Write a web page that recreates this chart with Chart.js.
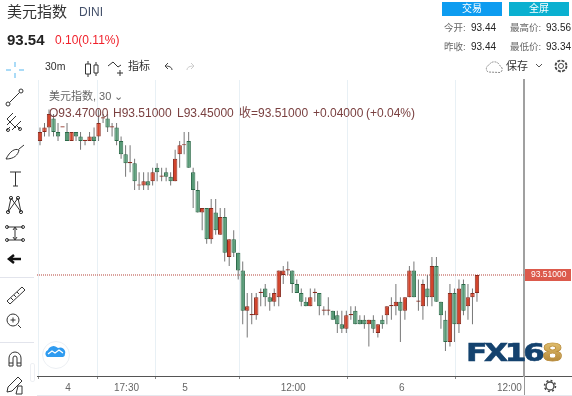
<!DOCTYPE html>
<html><head><meta charset="utf-8">
<script src="https://cdn.jsdelivr.net/npm/chart.js@4"></script>
<style>
html,body{margin:0;padding:0;background:#fff;width:572px;height:396px;overflow:hidden}
body{font-family:"Liberation Sans","Noto Sans CJK SC",sans-serif;position:relative}
canvas{position:absolute;left:0;top:0}
.t{position:absolute;white-space:nowrap;line-height:1}
svg.i{position:absolute;overflow:visible;fill:none;stroke:#333;stroke-width:1}
.box{position:absolute}
</style></head><body>
<canvas id="c" width="572" height="396"></canvas>

<div class="t" style="left:7px;top:4px;font-size:15px;color:#333">美元指数</div>
<div class="t" style="left:79px;top:6px;font-size:12px;color:#44506a">DINI</div>
<div class="t" style="left:7px;top:32px;font-size:15px;font-weight:bold;color:#222">93.54</div>
<div class="t" style="left:55px;top:34px;font-size:12px;color:#f0202a">0.10(0.11%)</div>
<div class="t" style="left:45px;top:61px;font-size:10.5px;color:#333">30m</div>
<div class="t" style="left:128px;top:61px;font-size:11px;color:#333">指标</div>
<div class="t" style="left:49px;top:91px;font-size:11px;color:#666">美元指数, 30 ⌄</div>
<div class="t" style="left:49px;top:107px;font-size:12px;color:#7a4040">O93.47000</div>
<div class="t" style="left:113px;top:107px;font-size:12px;color:#7a4040">H93.51000</div>
<div class="t" style="left:177px;top:107px;font-size:12px;color:#7a4040">L93.45000</div>
<div class="t" style="left:239px;top:107px;font-size:12px;color:#7a4040">收=93.51000</div>
<div class="t" style="left:313px;top:107px;font-size:12px;color:#7a4040">+0.04000</div>
<div class="t" style="left:366px;top:107px;font-size:12px;color:#7a4040">(+0.04%)</div>

<div class="box" style="left:442px;top:2px;width:60px;height:14px;background:#0d9cf0"></div>
<div class="box" style="left:509px;top:2px;width:60px;height:14px;background:#0ab0d0"></div>
<div class="t" style="left:462px;top:4px;font-size:10px;color:#fff">交易</div>
<div class="t" style="left:529px;top:4px;font-size:10px;color:#fff">全屏</div>
<div class="t" style="left:444px;top:23px;font-size:9.5px;color:#666">今开:</div>
<div class="t" style="left:471px;top:23px;font-size:10px;color:#222">93.44</div>
<div class="t" style="left:444px;top:42px;font-size:9.5px;color:#666">昨收:</div>
<div class="t" style="left:471px;top:42px;font-size:10px;color:#222">93.44</div>
<div class="t" style="left:510px;top:23px;font-size:9.5px;color:#666">最高价:</div>
<div class="t" style="left:546px;top:23px;font-size:10px;color:#222">93.56</div>
<div class="t" style="left:510px;top:42px;font-size:9.5px;color:#666">最低价:</div>
<div class="t" style="left:546px;top:42px;font-size:10px;color:#222">93.34</div>
<div class="t" style="left:506px;top:61px;font-size:11px;color:#333">保存</div>

<!-- top toolbar icons -->
<svg class="i" style="left:0;top:0" width="572" height="80">
 <path d="M88 61v3M88 74v3M85.500 64h5v10h-5zM96 62v3M96 73v3M94 65h4v8h-4z" stroke="#333"/>
 <path d="M108 66l5-4 5 5 3-2M120 70v6M117 73h6" stroke="#333"/>
 <path d="M172 70c0-3-3-4-7-4M168 63l-3 3 3 3" stroke="#444"/>
 <path d="M187 70c0-3 3-4 7-4M191 63l3 3-3 3" stroke="#ccc"/>
 <path d="M488 72a4 4 0 0 1 1-7a6 6 0 0 1 11 1a3.500 3.500 0 0 1 0 6.500z" stroke="#888" stroke-dasharray="2 1"/>
 <path d="M536 64l3 3 3-3" stroke="#555"/>
 <circle cx="561" cy="66" r="2.500" stroke="#444"/><circle cx="561" cy="66" r="5.500" stroke="#444" stroke-dasharray="3 1.300" stroke-width="1.800"/>
 <path d="M15 62v5M15 73v5M6 70h5M19 70h5" stroke="#8fd0f5" stroke-width="1.500"/>
</svg>

<!-- left toolbar -->
<svg class="i" style="left:0;top:80px" width="36" height="316">
 <circle cx="8" cy="24" r="2"/><circle cx="21" cy="11" r="2"/><path d="M9.500 22.500l10-10"/>
 <path d="M7 45l9-9M7 39l9 9M12 50l9-9M6 51l4-4M16 45l4 4M7 39l6-6" /><circle cx="8" cy="50" r="1.500"/><circle cx="20" cy="49" r="1.500"/>
 <path d="M6 79c4-8 9-11 13-9c-1 5-5 9-13 9zM19 69l5-4"/>
 <path d="M10 92h11M15.500 92v14M13 106h5"/>
 <circle cx="8" cy="132" r="1.600"/><circle cx="21" cy="132" r="1.600"/><circle cx="11" cy="118" r="1.600"/><circle cx="18" cy="118" r="1.600"/>
 <path d="M8 132l3-14 10 14M21 132l-3-14-10 14"/>
 <path d="M7 147h16M7 160h16M15 147v13M13 150l2-3 2 3M13 157l2 3 2-3"/><circle cx="7" cy="147" r="1.500"/><circle cx="23" cy="147" r="1.500"/><circle cx="7" cy="160" r="1.500"/><circle cx="23" cy="160" r="1.500"/>
 <path d="M10 179h11M14 175l-5 4 5 4" stroke="#111" stroke-width="2.500"/>
 <path d="M7 221l15-14 3 3-15 14zM11 218l2 2M14 215l2 2M17 212l2 2"/>
 <circle cx="13" cy="240" r="6"/><path d="M18 245l3 3M10.500 240h5M13 237.500v5"/>
 <path d="M9 286v-8a6 6 0 0 1 12 0v8h-4v-8a2 2 0 0 0-4 0v8zM9 283h4M17 283h4"/>
 <path d="M7 312l1-5 10-10 4 4-10 10zM18 306h4v8h-6z"/>
</svg>
<div class="box" style="left:0;top:277px;width:34px;height:1px;background:#e2e4ec"></div>
<div class="box" style="left:0;top:342px;width:34px;height:1px;background:#e2e4ec"></div>
<div class="box" style="left:30px;top:363px;width:5px;height:19px;border:1px solid #eef0f4;border-radius:2px;background:#fff;box-sizing:border-box"></div>

<!-- floating round cloud badge -->
<div class="box" style="left:42px;top:341px;width:26px;height:26px;border-radius:50%;border:1px solid #eceff3;background:#fff"></div>
<svg class="i" style="left:0;top:0;stroke:none" width="80" height="370">
 <path d="M47 357a4 4 0 0 1 1-7a6 6 0 0 1 10-2a5 5 0 0 1 7 6a3 3 0 0 1-2 3z" fill="#2f9bf0"/>
 <path d="M48 354l4-3 3 2 4-3 4 3" stroke="#fff" stroke-width="1.200" fill="none"/>
</svg>

<!-- watermark logo -->
<div class="t" style="left:466px;top:341px;font-family:'DejaVu Sans';font-weight:bold;font-size:24px;letter-spacing:-2.500px;color:#14426e;-webkit-text-stroke:0.6px #14426e;transform-origin:left top;transform:scaleX(1.3)">FX16<span style="background:linear-gradient(#e8c877,#a9792a);-webkit-background-clip:text;color:transparent;-webkit-text-stroke:0.6px #b98c3c">8</span></div>

<!-- price-scale column under and around the axis -->
<div class="box" style="left:524px;top:376px;width:48px;height:1px;background:#555"></div>
<div class="box" style="left:524px;top:376px;width:1px;height:20px;background:#999"></div>
<div class="box" style="left:37px;top:395px;width:535px;height:1px;background:#e6e8ee"></div>
<svg class="i" style="left:0;top:0" width="572" height="396">
 <circle cx="550" cy="386" r="4" stroke="#444" stroke-width="1.300"/><circle cx="550" cy="386" r="5.500" stroke="#444" stroke-dasharray="2 2.300" stroke-width="1.500"/>
</svg>

<script>
const opens = [
 93.81,93.83,93.84,93.86,93.83,93.84,93.83,93.81,93.83,93.82,
 93.81,93.81,93.82,93.82,93.86,93.86,93.84,93.84,93.81,93.78,
 93.76,93.76,93.71,93.71,93.72,93.72,93.75,93.73,93.74,93.73,
 93.72,93.78,93.80,93.81,93.74,93.70,93.65,93.66,93.59,93.65,
 93.60,93.64,93.55,93.59,93.56,93.52,93.43,93.42,93.42,93.47,
 93.48,93.46,93.45,93.46,93.51,93.52,93.52,93.49,93.47,93.45,
 93.44,93.47,93.47,93.43,93.43,93.43,93.42,93.40,93.39,93.42,
 93.43,93.41,93.41,93.40,93.41,93.38,93.41,93.42,93.44,93.44,
 93.45,93.43,93.46,93.52,93.45,93.44,93.48,93.46,93.53,93.45,
 93.41,93.36,93.47,93.40,93.49,93.44,93.46,93.47];
const highs = [
 93.84,93.85,93.88,93.87,93.85,93.84,93.85,93.83,93.83,93.83,
 93.81,93.83,93.84,93.88,93.87,93.87,93.85,93.85,93.82,93.80,
 93.80,93.77,93.74,93.74,93.74,93.75,93.76,93.75,93.75,93.74,
 93.79,93.81,93.83,93.83,93.75,93.72,93.66,93.66,93.68,93.68,
 93.66,93.66,93.59,93.61,93.56,93.54,93.47,93.47,93.47,93.48,
 93.49,93.47,93.48,93.52,93.53,93.54,93.52,93.50,93.48,93.46,
 93.48,93.48,93.47,93.44,93.46,93.43,93.43,93.43,93.43,93.44,
 93.44,93.42,93.42,93.41,93.42,93.40,93.42,93.44,93.46,93.49,
 93.46,93.46,93.53,93.54,93.50,93.50,93.51,93.55,93.55,93.45,
 93.43,93.49,93.48,93.50,93.50,93.49,93.48,93.51];
const lows = [
 93.80,93.82,93.82,93.82,93.81,93.84,93.81,93.81,93.81,93.79,
 93.80,93.81,93.80,93.81,93.85,93.83,93.82,93.80,93.77,93.73,
 93.74,93.70,93.70,93.70,93.70,93.71,93.72,93.72,93.72,93.71,
 93.72,93.75,93.78,93.75,93.66,93.65,93.61,93.58,93.58,93.60,
 93.60,93.54,93.53,93.55,93.50,93.40,93.37,93.40,93.41,93.44,
 93.44,93.43,93.44,93.44,93.49,93.51,93.47,93.47,93.44,93.44,
 93.44,93.45,93.42,93.42,93.42,93.41,93.38,93.38,93.38,93.41,
 93.40,93.40,93.39,93.35,93.38,93.37,93.39,93.40,93.41,93.42,
 93.36,93.41,93.46,93.46,93.43,93.41,93.44,93.44,93.45,93.39,
 93.34,93.35,93.36,93.38,93.42,93.41,93.40,93.45];
const closes = [
 93.83,93.84,93.87,93.83,93.82,93.84,93.81,93.83,93.82,93.81,
 93.81,93.82,93.81,93.85,93.86,93.84,93.84,93.81,93.78,93.76,
 93.76,93.72,93.71,93.72,93.71,93.74,93.74,93.73,93.73,93.72,
 93.77,93.80,93.80,93.75,93.70,93.65,93.66,93.59,93.66,93.61,
 93.64,93.56,93.59,93.56,93.52,93.43,93.44,93.42,93.46,93.47,
 93.46,93.45,93.47,93.52,93.52,93.52,93.49,93.47,93.45,93.44,
 93.46,93.47,93.44,93.43,93.43,93.41,93.40,93.39,93.42,93.42,
 93.40,93.40,93.40,93.41,93.39,93.40,93.40,93.44,93.44,93.45,
 93.43,93.46,93.52,93.46,93.45,93.49,93.46,93.53,93.45,93.42,
 93.36,93.47,93.40,93.48,93.43,93.46,93.47,93.51];
const tickPositions = [6.2,19.2,32.2,56.2,80.3,104.2];
const tickLabels = ['4','17:30','5','12:00','6','12:00'];
const lastPrice = 93.51;
const priceTicks = [93.51];

const upFill='#d2442c', upEdge='#8a2a1e', downFill='#579a76', downEdge='#2c6a49';
const isUp = opens.map((o,i)=>closes[i]>=o);
const xMin=-0.666, xMax=107.44;

const priceTag = {
  id:'priceTag',
  beforeDraw(ch){
    const y=ch.scales.y.getPixelForValue(lastPrice), g=ch.ctx;
    g.save(); g.fillStyle='#dc5a4c'; g.fillRect(524,Math.round(y)-6,47,12); g.restore();
  }
};

new Chart(document.getElementById('c').getContext('2d'),{
  type:'bar',
  data:{datasets:[
    {type:'bar',label:'body',order:1,grouped:false,
     data:opens.map((o,i)=>({x:i,y:[o,closes[i]]})),
     backgroundColor:isUp.map(u=>u?upFill:downFill),
     borderColor:isUp.map(u=>u?upEdge:downEdge),
     borderWidth:1,borderSkipped:false,barThickness:4.4,minBarLength:1.2,inflateAmount:0},
    {type:'bar',label:'wick',order:2,grouped:false,
     data:lows.map((l,i)=>({x:i,y:[l,highs[i]]})),
     backgroundColor:'#777',borderWidth:0,barThickness:1,inflateAmount:0},
    {type:'line',label:'last',order:3,
     data:[{x:xMin,y:lastPrice},{x:xMax,y:lastPrice}],
     borderColor:'#b5443a',borderWidth:1,borderDash:[1,1],pointRadius:0,fill:false}
  ]},
  options:{
    responsive:false,animation:false,devicePixelRatio:1,
    layout:{padding:{left:37,right:0,top:80,bottom:0}},
    plugins:{legend:{display:false},tooltip:{enabled:false}},
    scales:{
      x:{type:'linear',min:xMin,max:xMax,offset:false,
         afterBuildTicks(s){s.ticks=tickPositions.map(v=>({value:v}));},
         afterFit(s){s.height=20;},
         grid:{color:'#e8f0f5',lineWidth:1,tickLength:3,tickColor:'#888',drawOnChartArea:true},
         border:{color:'#555',width:1},
         ticks:{autoSkip:false,maxRotation:0,minRotation:0,padding:3,color:'#666',
                font:{family:'Liberation Sans',size:10},
                callback(v){const k=tickPositions.indexOf(v);return k<0?'':tickLabels[k];}}},
      y:{type:'linear',position:'right',min:93.51-(376-275)/447,max:93.51+(275-80)/447,
         afterBuildTicks(s){s.ticks=priceTicks.map(v=>({value:v}));},
         afterFit(s){s.width=48;},
         grid:{display:false,drawTicks:false,tickLength:0},
         border:{color:'#a0a0a0',width:2},
         ticks:{padding:7,color:'#fff',font:{family:'Liberation Sans',size:8.5},
                callback(v){return v.toFixed(5);}}}
    }
  },
  plugins:[priceTag]
});
</script>
</body></html>
